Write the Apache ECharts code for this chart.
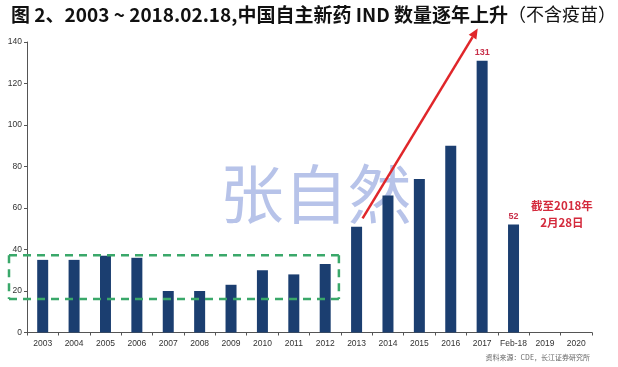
<!DOCTYPE html>
<html>
<head>
<meta charset="utf-8">
<script src="https://cdn.jsdelivr.net/npm/echarts@6/dist/echarts.min.js"></script>
<style>html,body{margin:0;padding:0;background:#fff}#c{width:618px;height:367px}</style>
</head>
<body>
<div id="c"></div>
<script>
var categories = ['2003','2004','2005','2006','2007','2008','2009','2010','2011','2012','2013','2014','2015','2016','2017','Feb-18','2019','2020'];
var values = [35, 35, 37, 36, 20, 20, 23, 30, 28, 33, 51, 66, 74, 90, 131, 52, null, null];
var labelled = ['2017', 'Feb-18'];
var yTicks = [0, 20, 40, 60, 80, 100, 120, 140];

var chart = echarts.init(document.getElementById('c'), null, {renderer: 'canvas'});
var FONT = 'Liberation Sans, Arial, sans-serif';
var CJK = '"Noto Sans CJK SC", sans-serif';

var barData = values.map(function (v, i) {
  if (labelled.indexOf(categories[i]) >= 0) {
    return {value: v, label: {show: true, position: 'top', distance: 4, color: '#c8304a', fontSize: 9, fontWeight: 'bold', fontFamily: FONT}};
  }
  return v;
});

chart.setOption({
  animation: false,
  backgroundColor: '#fff',
  title: {
    left: 6, top: 0,
    text: '{b|图 2、2003 ~ 2018.02.18,中国自主新药 IND 数量逐年上升}{n|（不含疫苗）}',
    textStyle: {
      rich: {
        b: {fontSize: 19, fontWeight: 'bold', color: '#111', fontFamily: CJK},
        n: {fontSize: 18, fontWeight: 'normal', color: '#111', fontFamily: CJK}
      }
    }
  },
  grid: {left: 27, right: 26, top: 42, bottom: 34.5, containLabel: false},
  xAxis: {
    type: 'category',
    data: categories,
    axisLine: {lineStyle: {color: '#555', width: 1}},
    axisTick: {show: true, length: 3, lineStyle: {color: '#555'}},
    axisLabel: {color: '#333', fontSize: 8.5, fontFamily: FONT, margin: 7, interval: 0}
  },
  yAxis: {
    type: 'value',
    min: yTicks[0], max: yTicks[yTicks.length - 1], interval: 20,
    splitLine: {show: false},
    axisLine: {show: true, lineStyle: {color: '#555', width: 1}},
    axisTick: {show: true, length: 3, lineStyle: {color: '#555'}},
    axisLabel: {color: '#333', fontSize: 8.5, fontFamily: FONT, margin: 5}
  },
  series: [{
    type: 'bar',
    data: barData,
    barWidth: 11,
    itemStyle: {color: '#1b3e70'},
    z: 3
  }]
});

function px(cat, val) { return chart.convertToPixel({xAxisIndex: 0, yAxisIndex: 0}, [cat, val]); }

// annotation geometry derived from axes
var boxTL = px(0, 37.2), boxBR = px(9, 16.1);
var band = chart.getModel().getComponent('xAxis').axis.getBandWidth();
var x0 = boxTL[0] - band / 2 - 18, x1 = boxBR[0] + band / 2 - 2;
var y0 = boxTL[1], y1 = boxBR[1];
var aS = px(10, 55), aE = px(13, 146.5);
aS[0] += 6; aE[0] += 27;
var ang = Math.atan2(aE[1] - aS[1], aE[0] - aS[0]);
var hl = 10, hw = 4.5;
var bx = aE[0] - hl * Math.cos(ang), by = aE[1] - hl * Math.sin(ang);
var head = [[aE[0], aE[1]], [bx + hw * Math.sin(ang), by - hw * Math.cos(ang)], [bx - hw * Math.sin(ang), by + hw * Math.cos(ang)]];
var note = px(16, 0);
var wm = px(8, 68);

var dash = {stroke: '#3aa86a', lineWidth: 2.5, lineDash: [8, 6]};
chart.setOption({
  graphic: [
    {type: 'text', x: wm[0] + 22, y: wm[1] + 2, z: 1, style: {text: '张自然', font: 'normal 64px "Noto Sans CJK SC", serif', fill: 'rgba(165,180,228,0.8)', textAlign: 'center', textVerticalAlign: 'middle'}},
    {type: 'polyline', z: 10, shape: {points: [[x0, y0], [x1, y0]]}, style: dash},
    {type: 'polyline', z: 10, shape: {points: [[x0, y1], [x1, y1]]}, style: dash},
    {type: 'polyline', z: 10, shape: {points: [[x0, y0], [x0, y1]]}, style: dash},
    {type: 'polyline', z: 10, shape: {points: [[x1, y0], [x1, y1]]}, style: dash},
    {type: 'line', z: 10, shape: {x1: aS[0], y1: aS[1], x2: bx, y2: by}, style: {stroke: '#e0262a', lineWidth: 2.5}},
    {type: 'polygon', z: 10, shape: {points: head}, style: {fill: '#e0262a'}},
    {type: 'text', z: 10, x: note[0] + 17, y: 214, style: {text: '截至2018年\n2月28日', font: 'bold 11.5px "Noto Sans CJK SC", sans-serif', fill: '#d42a3c', textAlign: 'center', textVerticalAlign: 'middle', lineHeight: 17}},
    {type: 'text', z: 10, x: 590, y: 357, style: {text: '资料来源：CDE，长江证券研究所', font: '7px "Noto Sans CJK SC", sans-serif', fill: '#666', textAlign: 'right', textVerticalAlign: 'middle'}}
  ]
});
</script>
</body>
</html>
